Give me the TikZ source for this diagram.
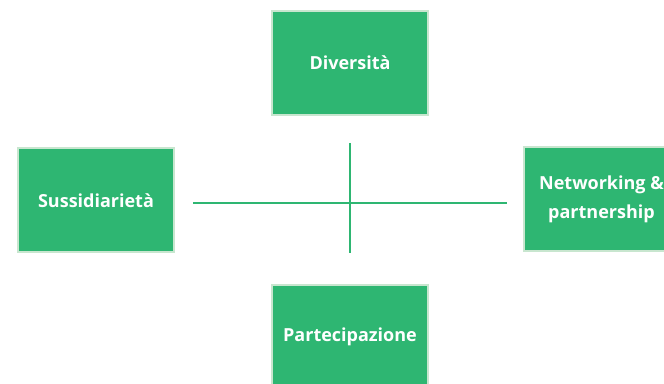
\documentclass[tikz,border=0pt]{standalone}
\usepackage{fontspec}
\setmainfont{Open Sans}
\usepackage{xcolor}
\usepackage{tikz}

\definecolor{boxgreen}{HTML}{2EB672}
\definecolor{edgegreen}{HTML}{C8E6CF}

\begin{document}
\begin{tikzpicture}[x=0.75pt,y=0.75pt,yscale=-1,xscale=1,
  box/.style={draw=edgegreen,fill=boxgreen,line width=1.5pt,minimum width=117pt,minimum height=78pt,inner sep=0.75pt,align=center,text=white,font=\bfseries\fontsize{13.5}{22}\selectfont}]

\useasboundingbox (0,0) rectangle (664,384);

% the four boxes
\node [box] (div) at (350,63) {Diversità};

\node [box] (sus) at (96,200.5) {Sussidiarietà};

\node [box] (net) at (601.5,199) {Networking \&\\partnership};

\node [box] (par) at (350,337) {Partecipazione};

% the cross
\coordinate (hl) at (193,203);
\coordinate (hr) at (507,203);
\coordinate (vt) at (350,143);
\coordinate (vb) at (350,253);

\draw [boxgreen,line width=1.8pt] (hl) -- (hr) ;
\draw [boxgreen,line width=1.8pt] (vt) -- (vb) ;

\end{tikzpicture}
\end{document}
